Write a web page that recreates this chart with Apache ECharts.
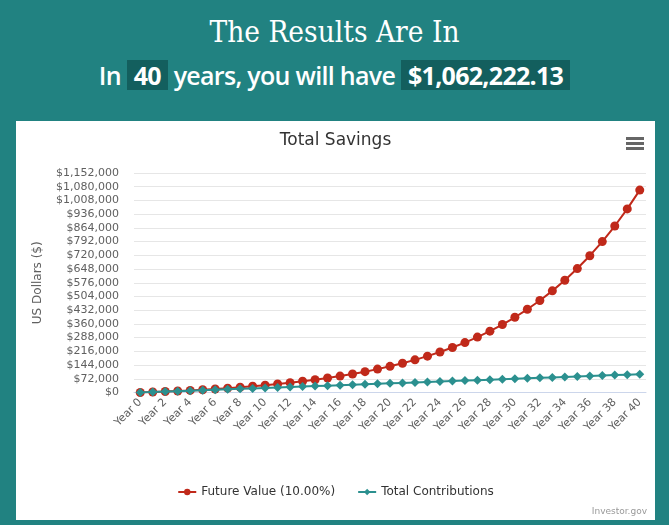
<!DOCTYPE html>
<html>
<head>
<meta charset="utf-8">
<script src="https://cdn.jsdelivr.net/npm/echarts@6/dist/echarts.min.js"></script>
<style>
  html, body { margin:0; padding:0; }
  body { width:669px; height:525px; background:#218281; position:relative; overflow:hidden; font-family:"Open Sans", sans-serif; }
  #h1 { position:absolute; left:0; width:669px; top:12px; text-align:center; color:#fff; font-family:"DejaVu Serif"; font-stretch:condensed; font-size:29.5px; line-height:40px; }
  #h2 { position:absolute; left:0; width:669px; top:60px; text-align:center; color:#fff; font-family:"Open Sans"; font-weight:600; font-size:25px; line-height:30px; letter-spacing:-0.7px; }
  .box { background:#135f5e; padding:0 7px; display:inline-block; font-weight:700; }
  #chart { position:absolute; left:16px; top:121px; width:639px; height:399px; background:#fff; }
</style>
</head>
<body>
<div id="h1">The Results Are In</div>
<div id="h2">In <span class="box">40</span> years, you will have <span class="box">$1,062,222.13</span></div>
<div id="chart"></div>
<script>
const categories = ["Year 0","Year 1","Year 2","Year 3","Year 4","Year 5","Year 6","Year 7","Year 8","Year 9","Year 10",
  "Year 11","Year 12","Year 13","Year 14","Year 15","Year 16","Year 17","Year 18","Year 19","Year 20",
  "Year 21","Year 22","Year 23","Year 24","Year 25","Year 26","Year 27","Year 28","Year 29","Year 30",
  "Year 31","Year 32","Year 33","Year 34","Year 35","Year 36","Year 37","Year 38","Year 39","Year 40"];
const futureValue = [0, 2400, 5040, 7944, 11138.40, 14652.24, 18517.46, 22769.21, 27446.13, 32590.74, 38249.82,
  44474.80, 51322.28, 58854.51, 67139.96, 76253.96, 86279.35, 97307.29, 109438.02, 122781.82, 137460.00,
  153606.00, 171366.60, 190903.26, 212393.58, 236032.94, 262036.24, 290639.86, 322103.85, 356714.23, 394785.65,
  436664.22, 482730.64, 533403.71, 589144.08, 650458.48, 717904.33, 792094.77, 873704.24, 963474.67, 1062222.13];
const totalContributions = [0, 2400, 4800, 7200, 9600, 12000, 14400, 16800, 19200, 21600, 24000,
  26400, 28800, 31200, 33600, 36000, 38400, 40800, 43200, 45600, 48000,
  50400, 52800, 55200, 57600, 60000, 62400, 64800, 67200, 69600, 72000,
  74400, 76800, 79200, 81600, 84000, 86400, 88800, 91200, 93600, 96000];
const yMax = 1152000;
const yStep = 72000;

const chart = echarts.init(document.getElementById('chart'));
const F = '"DejaVu Sans", sans-serif';
chart.setOption({
  animation: false,
  textStyle: { fontFamily: F },
  title: { text: 'Total Savings', left: 'center', top: 6, textStyle: { fontSize: 17, fontWeight: 'normal', color: '#333333', fontFamily: F } },
  legend: {
    bottom: 17, left: 'center', itemGap: 22, itemWidth: 18, itemHeight: 8,
    textStyle: { fontSize: 12, color: '#333333', fontFamily: F },
    data: ['Future Value (10.00%)', 'Total Contributions']
  },
  grid: { left: 118, right: 9, top: 52, bottom: 127.5, containLabel: false },
  xAxis: {
    type: 'category', data: categories, boundaryGap: true,
    axisLine: { lineStyle: { color: '#ccd6eb' } },
    axisTick: { alignWithLabel: true, interval: 1, length: 10, lineStyle: { color: '#ccd6eb' } },
    axisLabel: { interval: 1, rotate: 45, fontSize: 11, color: '#606060', fontFamily: F, margin: 8 }
  },
  yAxis: {
    type: 'value', min: 0, max: yMax, interval: yStep,
    name: 'US Dollars ($)', nameLocation: 'middle', nameGap: 90, nameRotate: 90,
    nameTextStyle: { fontSize: 12, color: '#606060', fontFamily: F },
    axisLine: { show: false }, axisTick: { show: false },
    splitLine: { lineStyle: { color: '#e6e6e6' } },
    axisLabel: { fontSize: 11, color: '#606060', fontFamily: F, margin: 15,
      formatter: v => '$' + v.toLocaleString('en-US') }
  },
  series: [
    { name: 'Future Value (10.00%)', type: 'line', data: futureValue, symbol: 'circle', symbolSize: 9, showAllSymbol: true,
      itemStyle: { color: '#c0291a' }, lineStyle: { width: 2, color: '#c0291a' }, z: 2 },
    { name: 'Total Contributions', type: 'line', data: totalContributions, symbol: 'diamond', symbolSize: 9, showAllSymbol: true,
      itemStyle: { color: '#2b908f' }, lineStyle: { width: 2, color: '#2b908f' }, z: 3 }
  ],
  graphic: [
    { type: 'rect', shape: { x: 610, y: 16, width: 18, height: 3 }, style: { fill: '#666666' } },
    { type: 'rect', shape: { x: 610, y: 21, width: 18, height: 3 }, style: { fill: '#666666' } },
    { type: 'rect', shape: { x: 610, y: 26, width: 18, height: 3 }, style: { fill: '#666666' } },
    { type: 'text', right: 8, bottom: 4, style: { text: 'Investor.gov', fill: '#999999', font: '9px ' + F } }
  ]
});
</script>
</body>
</html>
